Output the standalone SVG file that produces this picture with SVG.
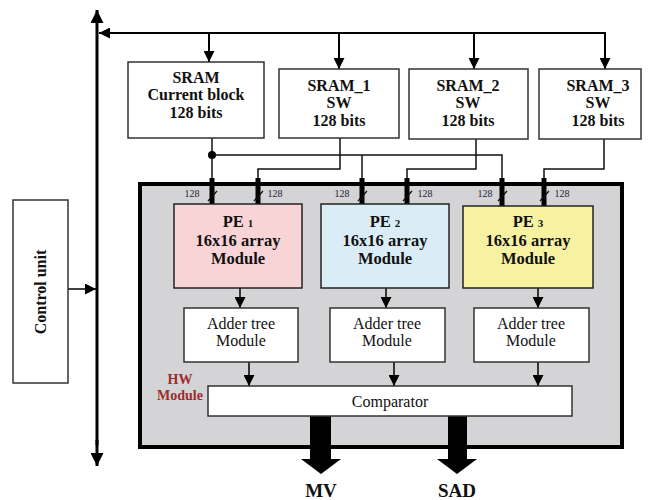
<svg xmlns="http://www.w3.org/2000/svg" width="648" height="500" viewBox="0 0 648 500">
<style>
.box{fill:#fff;stroke:#333;stroke-width:1.5}
.t{font-family:"Liberation Serif","Times New Roman",serif;font-weight:bold;fill:#111;text-anchor:middle}
.tn{font-family:"Liberation Serif","Times New Roman",serif;font-weight:normal;fill:#111;text-anchor:middle}
.w{fill:none;stroke:#111;stroke-width:1.5}
.stub{stroke:#000;stroke-width:5}
.sl{stroke:#111;stroke-width:1.3}
.lbl{font-family:"Liberation Serif","Times New Roman",serif;font-size:10px;fill:#223;text-anchor:middle}
</style>
<defs>
<marker id="ah" viewBox="0 0 10 10" refX="10" refY="5" markerWidth="11" markerHeight="11" markerUnits="userSpaceOnUse" orient="auto">
<path d="M0,0 L10,5 L0,10 z" fill="#000"/>
</marker>
<marker id="ahb" viewBox="0 0 10 10" refX="10" refY="5" markerWidth="13" markerHeight="13" markerUnits="userSpaceOnUse" orient="auto">
<path d="M0,0 L10,5 L0,10 z" fill="#000"/>
</marker>
</defs>

<g id="hw-module">
<rect x="140" y="184" width="482" height="263" fill="#d4d4d6" stroke="#000" stroke-width="4"/>
<text class="t" x="180" y="384" font-size="14" style="fill:#9b2d2d">HW</text>
<text class="t" x="180" y="400" font-size="14" style="fill:#9b2d2d">Module</text>
</g>

<g id="connectors">
<!-- vertical bus -->
<line x1="97" y1="445" x2="97" y2="10" stroke="#000" stroke-width="3" marker-end="url(#ahb)"/>
<line x1="97" y1="440" x2="97" y2="466" stroke="#000" stroke-width="3" marker-end="url(#ahb)"/>
<!-- top horizontal -->
<line x1="605" y1="33" x2="99" y2="33" stroke="#000" stroke-width="2" marker-end="url(#ah)"/>
<line x1="209" y1="33" x2="209" y2="62" stroke="#000" stroke-width="2" marker-end="url(#ah)"/>
<line x1="339" y1="33" x2="339" y2="69" stroke="#000" stroke-width="2" marker-end="url(#ah)"/>
<line x1="474" y1="33" x2="474" y2="69" stroke="#000" stroke-width="2" marker-end="url(#ah)"/>
<line x1="605" y1="32" x2="605" y2="69" stroke="#000" stroke-width="2" marker-end="url(#ah)"/>
<!-- control unit to bus -->
<line x1="68" y1="289" x2="96" y2="289" stroke="#000" stroke-width="1.5" marker-end="url(#ah)"/>
<!-- SRAM current block fan-out -->
<polyline class="w" points="212,138 212,180"/>
<polyline class="w" points="212,155 502,155 502,180"/>
<line class="w" x1="362" y1="155" x2="362" y2="180"/>
<circle cx="212" cy="155" r="4" fill="#000"/>
<!-- SRAM_1/2/3 -->
<polyline class="w" points="340,138 340,169 258,169 258,180"/>
<polyline class="w" points="476,139 476,169 407,169 407,180"/>
<polyline class="w" points="604,139 604,169 544,169 544,180"/>
<!-- thick 128-bit stubs -->
<line class="stub" x1="212" y1="178" x2="212" y2="204"/>
<line class="stub" x1="258" y1="178" x2="258" y2="204"/>
<line class="stub" x1="362" y1="178" x2="362" y2="204"/>
<line class="stub" x1="407" y1="178" x2="407" y2="204"/>
<line class="stub" x1="502" y1="178" x2="502" y2="206"/>
<line class="stub" x1="544" y1="178" x2="544" y2="206"/>
<line class="sl" x1="208" y1="201" x2="217" y2="191"/>
<line class="sl" x1="254" y1="201" x2="263" y2="191"/>
<line class="sl" x1="358" y1="201" x2="367" y2="191"/>
<line class="sl" x1="403" y1="201" x2="412" y2="191"/>
<line class="sl" x1="498" y1="201" x2="507" y2="191"/>
<line class="sl" x1="540" y1="201" x2="549" y2="191"/>
<text class="lbl" x="192" y="197">128</text>
<text class="lbl" x="275" y="197">128</text>
<text class="lbl" x="342" y="197">128</text>
<text class="lbl" x="425" y="197">128</text>
<text class="lbl" x="485" y="197">128</text>
<text class="lbl" x="562" y="197">128</text>
<!-- PE to adder -->
<line x1="240" y1="288" x2="240" y2="308" stroke="#000" stroke-width="1.5" marker-end="url(#ah)"/>
<line x1="386" y1="288" x2="386" y2="308" stroke="#000" stroke-width="1.5" marker-end="url(#ah)"/>
<line x1="538" y1="288" x2="538" y2="308" stroke="#000" stroke-width="1.5" marker-end="url(#ah)"/>
<!-- adder to comparator -->
<line x1="249" y1="362" x2="249" y2="386" stroke="#000" stroke-width="1.5" marker-end="url(#ah)"/>
<line x1="394" y1="362" x2="394" y2="386" stroke="#000" stroke-width="1.5" marker-end="url(#ah)"/>
<line x1="538" y1="362" x2="538" y2="386" stroke="#000" stroke-width="1.5" marker-end="url(#ah)"/>
<!-- thick outputs -->
<polygon points="310,416 331,416 331,459 341,459 321,474 301,459 310,459" fill="#000"/>
<polygon points="448,416 467,416 467,459 477,459 457,474 437,459 448,459" fill="#000"/>
</g>

<g id="sram-current">
<rect class="box" x="128" y="62" width="136" height="76"/>
<text class="t" x="196" y="83" font-size="16">SRAM</text>
<text class="t" x="196" y="100" font-size="16">Current block</text>
<text class="t" x="196" y="118" font-size="16">128 bits</text>
</g>
<g id="sram-1">
<rect class="box" x="279" y="69" width="120" height="69"/>
<text class="t" x="339" y="91" font-size="16">SRAM_1</text>
<text class="t" x="339" y="108" font-size="16">SW</text>
<text class="t" x="339" y="126" font-size="16">128 bits</text>
</g>
<g id="sram-2">
<rect class="box" x="409" y="69" width="119" height="70"/>
<text class="t" x="468" y="91" font-size="16">SRAM_2</text>
<text class="t" x="468" y="108" font-size="16">SW</text>
<text class="t" x="468" y="126" font-size="16">128 bits</text>
</g>
<g id="sram-3">
<rect class="box" x="539" y="69" width="102" height="70"/>
<text class="t" x="598" y="91" font-size="16">SRAM_3</text>
<text class="t" x="598" y="108" font-size="16">SW</text>
<text class="t" x="598" y="126" font-size="16">128 bits</text>
</g>

<g id="pe-1">
<rect x="174" y="204" width="128" height="84" fill="#f9d4d6" stroke="#222" stroke-width="1.5"/>
<text class="t" x="238" y="227" font-size="16.5">PE <tspan font-size="11">1</tspan></text>
<text class="t" x="238" y="245.5" font-size="16.5">16x16 array</text>
<text class="t" x="238" y="264" font-size="16.5">Module</text>
</g>
<g id="pe-2">
<rect x="321" y="204" width="128" height="84" fill="#daedf6" stroke="#222" stroke-width="1.5"/>
<text class="t" x="385" y="227" font-size="16.5">PE <tspan font-size="11">2</tspan></text>
<text class="t" x="385" y="245.5" font-size="16.5">16x16 array</text>
<text class="t" x="385" y="264" font-size="16.5">Module</text>
</g>
<g id="pe-3">
<rect x="463" y="206" width="130" height="82" fill="#f7f2a2" stroke="#222" stroke-width="1.5"/>
<text class="t" x="528" y="227" font-size="16.5">PE <tspan font-size="11">3</tspan></text>
<text class="t" x="528" y="245.5" font-size="16.5">16x16 array</text>
<text class="t" x="528" y="264" font-size="16.5">Module</text>
</g>

<g id="adder-1">
<rect class="box" x="184" y="308" width="114" height="54"/>
<text class="tn" x="241" y="329" font-size="16">Adder tree</text>
<text class="tn" x="241" y="346" font-size="16">Module</text>
</g>
<g id="adder-2">
<rect class="box" x="330" y="308" width="115" height="54"/>
<text class="tn" x="387" y="329" font-size="16">Adder tree</text>
<text class="tn" x="387" y="346" font-size="16">Module</text>
</g>
<g id="adder-3">
<rect class="box" x="474" y="308" width="115" height="54"/>
<text class="tn" x="531" y="329" font-size="16">Adder tree</text>
<text class="tn" x="531" y="346" font-size="16">Module</text>
</g>

<g id="comparator">
<rect class="box" x="208" y="386" width="364" height="30"/>
<text class="tn" x="390" y="407" font-size="16">Comparator</text>
</g>

<g id="control-unit">
<rect class="box" x="13" y="200" width="55" height="183"/>
<text class="t" x="46" y="292" font-size="16" transform="rotate(-90 46 292)">Control unit</text>
</g>

<g id="outputs">
<text class="t" x="321" y="497" font-size="19">MV</text>
<text class="t" x="457" y="497" font-size="19">SAD</text>
</g>
</svg>
